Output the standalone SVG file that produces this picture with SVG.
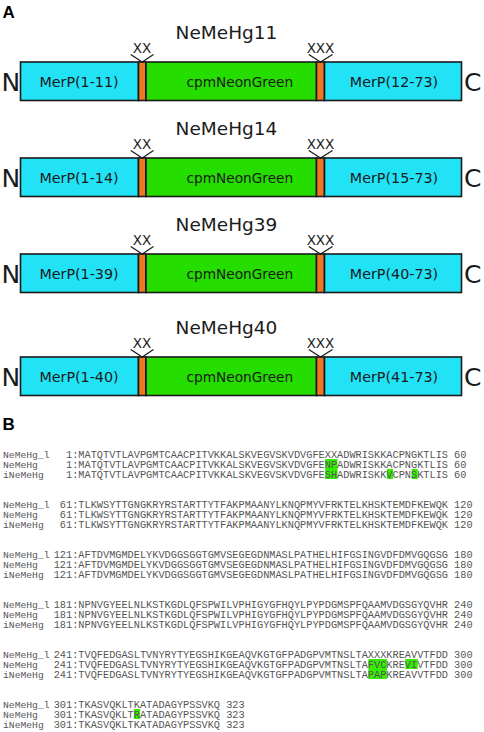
<svg xmlns="http://www.w3.org/2000/svg" width="484" height="732" viewBox="0 0 484 732">
<style>
.bg{fill:#ffffff}
.cy{fill:#22E3F5;stroke:#1a1a1a;stroke-width:1.6}
.gr{fill:#26DD00;stroke:#1a1a1a;stroke-width:1.6}
.or{fill:#EE7722;stroke:#1a1a1a;stroke-width:1.6}
.lbl{font-family:"DejaVu Sans",Verdana,sans-serif;fill:#1a1a1a}
.title{font-size:18.5px;text-anchor:middle}
.dom{font-size:14.3px;text-anchor:middle}
.cpm{font-size:13.7px}
.term{font-size:25px}
.xx{font-size:13.5px;text-anchor:middle}
.v{fill:none;stroke:#1a1a1a;stroke-width:1.2}
.pl{font-family:"Liberation Sans",Arial,sans-serif;font-weight:bold;font-size:17px;fill:#000}
.seq{font-family:"Liberation Mono","Courier New",monospace;font-size:10.28px;fill:#555;white-space:pre}
.nm{font-family:"Liberation Mono","Courier New",monospace;font-size:9.7px;fill:#555}
.hl{fill:#33EE00}
</style>
<rect class="bg" x="0" y="0" width="484" height="732"/>
<text class="pl" x="2.5" y="17.5">A</text>
<text class="pl" x="2.5" y="430">B</text>

<g id="NeMeHg11">
<text class="lbl title" x="226.5" y="38.5">NeMeHg11</text>
<rect class="cy" x="20.5" y="62" width="118" height="38.5"/>
<rect class="or" x="138.5" y="62" width="7.5" height="38.5"/>
<rect class="gr" x="146" y="62" width="170.5" height="38.5"/>
<rect class="or" x="316.5" y="62" width="8" height="38.5"/>
<rect class="cy" x="324.5" y="62" width="137" height="38.5"/>
<text class="lbl term" x="1.5" y="90.7">N</text>
<text class="lbl term" x="464" y="90.7">C</text>
<text class="lbl dom" x="79" y="87.3">MerP(1-11)</text>
<text class="lbl cpm" x="186.5" y="87.3">cpmNeonGreen</text>
<text class="lbl dom" x="394" y="87.3">MerP(12-73)</text>
<text class="lbl xx" x="142" y="53.3">XX</text>
<text class="lbl xx" x="320.5" y="53.3">XXX</text>
</g>

<g id="NeMeHg14">
<text class="lbl title" x="226.5" y="134.5">NeMeHg14</text>
<rect class="cy" x="20.5" y="158" width="118" height="38.5"/>
<rect class="or" x="138.5" y="158" width="7.5" height="38.5"/>
<rect class="gr" x="146" y="158" width="170.5" height="38.5"/>
<rect class="or" x="316.5" y="158" width="8" height="38.5"/>
<rect class="cy" x="324.5" y="158" width="137" height="38.5"/>
<text class="lbl term" x="1.5" y="186.7">N</text>
<text class="lbl term" x="464" y="186.7">C</text>
<text class="lbl dom" x="79" y="183.3">MerP(1-14)</text>
<text class="lbl cpm" x="186.5" y="183.3">cpmNeonGreen</text>
<text class="lbl dom" x="394" y="183.3">MerP(15-73)</text>
<text class="lbl xx" x="142" y="149.3">XX</text>
<text class="lbl xx" x="320.5" y="149.3">XXX</text>
</g>

<g id="NeMeHg39">
<text class="lbl title" x="226.5" y="230.5">NeMeHg39</text>
<rect class="cy" x="20.5" y="254" width="118" height="38.5"/>
<rect class="or" x="138.5" y="254" width="7.5" height="38.5"/>
<rect class="gr" x="146" y="254" width="170.5" height="38.5"/>
<rect class="or" x="316.5" y="254" width="8" height="38.5"/>
<rect class="cy" x="324.5" y="254" width="137" height="38.5"/>
<text class="lbl term" x="1.5" y="282.7">N</text>
<text class="lbl term" x="464" y="282.7">C</text>
<text class="lbl dom" x="79" y="279.3">MerP(1-39)</text>
<text class="lbl cpm" x="186.5" y="279.3">cpmNeonGreen</text>
<text class="lbl dom" x="394" y="279.3">MerP(40-73)</text>
<text class="lbl xx" x="142" y="245.3">XX</text>
<text class="lbl xx" x="320.5" y="245.3">XXX</text>
</g>

<g id="NeMeHg40">
<text class="lbl title" x="226.5" y="333.5">NeMeHg40</text>
<rect class="cy" x="20.5" y="357" width="118" height="38.5"/>
<rect class="or" x="138.5" y="357" width="7.5" height="38.5"/>
<rect class="gr" x="146" y="357" width="170.5" height="38.5"/>
<rect class="or" x="316.5" y="357" width="8" height="38.5"/>
<rect class="cy" x="324.5" y="357" width="137" height="38.5"/>
<text class="lbl term" x="1.5" y="385.7">N</text>
<text class="lbl term" x="464" y="385.7">C</text>
<text class="lbl dom" x="79" y="382.3">MerP(1-40)</text>
<text class="lbl cpm" x="186.5" y="382.3">cpmNeonGreen</text>
<text class="lbl dom" x="394" y="382.3">MerP(41-73)</text>
<text class="lbl xx" x="142" y="348.3">XX</text>
<text class="lbl xx" x="320.5" y="348.3">XXX</text>
</g>

<g id="connectors">
<path class="v" d="M130.7,54.5 L142.2,62 L153.5,54.5 M308.8,54.5 L320.5,62 L332.5,54.5"/>
<path class="v" d="M130.7,150.5 L142.2,158 L153.5,150.5 M308.8,150.5 L320.5,158 L332.5,150.5"/>
<path class="v" d="M130.7,246.5 L142.2,254 L153.5,246.5 M308.8,246.5 L320.5,254 L332.5,246.5"/>
<path class="v" d="M130.7,349.5 L142.2,357 L153.5,349.5 M308.8,349.5 L320.5,357 L332.5,349.5"/>
</g>

<g id="alignment" xml:space="preserve">
<rect class="hl" x="325.2" y="459" width="12.34" height="10"/>
<rect class="hl" x="325.2" y="469" width="12.34" height="10"/>
<rect class="hl" x="386.9" y="469" width="6.17" height="10"/>
<rect class="hl" x="411.6" y="469" width="6.17" height="10"/>
<rect class="hl" x="368.4" y="659" width="18.51" height="10"/>
<rect class="hl" x="405.4" y="659" width="12.34" height="10"/>
<rect class="hl" x="368.4" y="669" width="18.51" height="10"/>
<rect class="hl" x="133.9" y="709" width="6.17" height="10"/>

<text class="nm" x="3" y="457.5">NeMeHg_l</text>
<text class="nm" x="3" y="467.5">NeMeHg</text>
<text class="nm" x="3" y="477.5">iNeMeHg</text>
<text class="seq" x="53.7" y="457.5">  1:MATQTVTLAVPGMTCAACPITVKKALSKVEGVSKVDVGFEXXADWRISKKACPNGKTLIS 60</text>
<text class="seq" x="53.7" y="467.5">  1:MATQTVTLAVPGMTCAACPITVKKALSKVEGVSKVDVGFENPADWRISKKACPNGKTLIS 60</text>
<text class="seq" x="53.7" y="477.5">  1:MATQTVTLAVPGMTCAACPITVKKALSKVEGVSKVDVGFESHADWRISKKVCPNSKTLIS 60</text>

<text class="nm" x="3" y="507.5">NeMeHg_l</text>
<text class="nm" x="3" y="517.5">NeMeHg</text>
<text class="nm" x="3" y="527.5">iNeMeHg</text>
<text class="seq" x="53.7" y="507.5"> 61:TLKWSYTTGNGKRYRSTARTTYTFAKPMAANYLKNQPMYVFRKTELKHSKTEMDFKEWQK 120</text>
<text class="seq" x="53.7" y="517.5"> 61:TLKWSYTTGNGKRYRSTARTTYTFAKPMAANYLKNQPMYVFRKTELKHSKTEMDFKEWQK 120</text>
<text class="seq" x="53.7" y="527.5"> 61:TLKWSYTTGNGKRYRSTARTTYTFAKPMAANYLKNQPMYVFRKTELKHSKTEMDFKEWQK 120</text>

<text class="nm" x="3" y="557.5">NeMeHg_l</text>
<text class="nm" x="3" y="567.5">NeMeHg</text>
<text class="nm" x="3" y="577.5">iNeMeHg</text>
<text class="seq" x="53.7" y="557.5">121:AFTDVMGMDELYKVDGGSGGTGMVSEGEGDNMASLPATHELHIFGSINGVDFDMVGQGSG 180</text>
<text class="seq" x="53.7" y="567.5">121:AFTDVMGMDELYKVDGGSGGTGMVSEGEGDNMASLPATHELHIFGSINGVDFDMVGQGSG 180</text>
<text class="seq" x="53.7" y="577.5">121:AFTDVMGMDELYKVDGGSGGTGMVSEGEGDNMASLPATHELHIFGSINGVDFDMVGQGSG 180</text>

<text class="nm" x="3" y="607.5">NeMeHg_l</text>
<text class="nm" x="3" y="617.5">NeMeHg</text>
<text class="nm" x="3" y="627.5">iNeMeHg</text>
<text class="seq" x="53.7" y="607.5">181:NPNVGYEELNLKSTKGDLQFSPWILVPHIGYGFHQYLPYPDGMSPFQAAMVDGSGYQVHR 240</text>
<text class="seq" x="53.7" y="617.5">181:NPNVGYEELNLKSTKGDLQFSPWILVPHIGYGFHQYLPYPDGMSPFQAAMVDGSGYQVHR 240</text>
<text class="seq" x="53.7" y="627.5">181:NPNVGYEELNLKSTKGDLQFSPWILVPHIGYGFHQYLPYPDGMSPFQAAMVDGSGYQVHR 240</text>

<text class="nm" x="3" y="657.5">NeMeHg_l</text>
<text class="nm" x="3" y="667.5">NeMeHg</text>
<text class="nm" x="3" y="677.5">iNeMeHg</text>
<text class="seq" x="53.7" y="657.5">241:TVQFEDGASLTVNYRYTYEGSHIKGEAQVKGTGFPADGPVMTNSLTAXXXKREAVVTFDD 300</text>
<text class="seq" x="53.7" y="667.5">241:TVQFEDGASLTVNYRYTYEGSHIKGEAQVKGTGFPADGPVMTNSLTAFVCKREVIVTFDD 300</text>
<text class="seq" x="53.7" y="677.5">241:TVQFEDGASLTVNYRYTYEGSHIKGEAQVKGTGFPADGPVMTNSLTAPAPKREAVVTFDD 300</text>

<text class="nm" x="3" y="707.5">NeMeHg_l</text>
<text class="nm" x="3" y="717.5">NeMeHg</text>
<text class="nm" x="3" y="727.5">iNeMeHg</text>
<text class="seq" x="53.7" y="707.5">301:TKASVQKLTKATADAGYPSSVKQ 323</text>
<text class="seq" x="53.7" y="717.5">301:TKASVQKLTRATADAGYPSSVKQ 323</text>
<text class="seq" x="53.7" y="727.5">301:TKASVQKLTKATADAGYPSSVKQ 323</text>
</g>
</svg>
